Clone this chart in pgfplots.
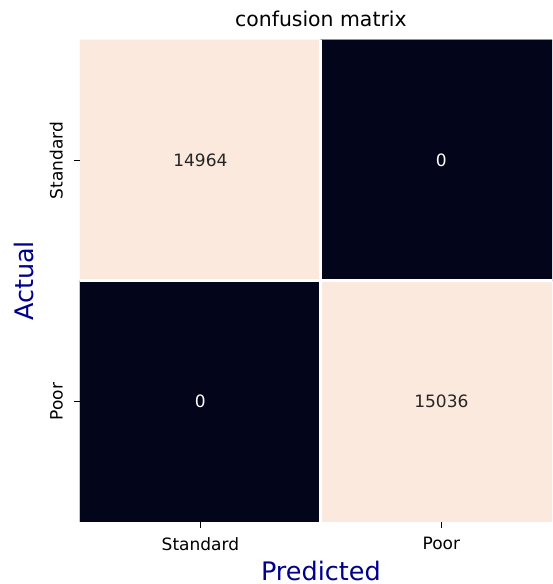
\documentclass[border=0pt]{standalone}
\usepackage{pgfplots}
\pgfplotsset{compat=1.18}
\usepackage{fontspec}
\setmainfont{DejaVu Sans}
\definecolor{rlight}{RGB}{250,233,220}
\definecolor{rdark}{RGB}{3,5,26}
\definecolor{lblue}{RGB}{0,0,139}
\definecolor{annot}{RGB}{38,38,38}
\begin{document}
\begin{tikzpicture}
\useasboundingbox (0,0) rectangle (324.7pt,343.5pt);
\clip (0,0) rectangle (324.7pt,343.5pt);
\begin{axis}[
  at={(47pt,36.5pt)}, anchor=south west,
  scale only axis, width=283.5pt, height=283.5pt,
  xmin=-0.5, xmax=1.5, ymin=-0.5, ymax=1.5,
  y dir=reverse,
  axis on top,
  axis line style={draw=none},
  xtick={0,1}, xticklabels={Standard,Poor},
  ytick={0,1}, yticklabels={Standard,Poor},
  xtick pos=bottom, ytick pos=left,
  tick align=outside, major tick length=3.5pt,
  tick style={black, line width=0.8pt},
  extra x ticks={0.5}, extra y ticks={0.5},
  extra x tick labels={}, extra y tick labels={},
  extra tick style={grid=major, major tick length=0pt, major grid style={white, line width=1.8pt}},
  ticklabel style={font=\fontsize{10}{12}\selectfont, text=black},
  xticklabel style={yshift=-2pt},
  yticklabel style={xshift=-3pt, rotate=90, anchor=south},
  title={confusion matrix},
  title style={font=\fontsize{12}{14}\selectfont, at={(0.5,1)}, anchor=south, yshift=-1.5pt},
  xlabel={Predicted}, ylabel={Actual},
  label style={font=\fontsize{15}{18}\selectfont, text=lblue},
  xlabel style={yshift=4.2pt},
  ylabel style={yshift=-1pt},
  colormap={rk}{color=(rdark) color=(rlight)},
  point meta min=0, point meta max=15036,
]
\addplot[matrix plot*, mesh/cols=2, point meta=explicit]
coordinates {(0,0) [14964] (1,0) [0] (0,1) [0] (1,1) [15036]};
\addplot[only marks, mark=none, nodes near coords, point meta=explicit symbolic,
  nodes near coords style={anchor=center, text=annot, font=\fontsize{10}{12}\selectfont}]
coordinates {(0,0) [14964] (1,1) [15036]};
\addplot[only marks, mark=none, nodes near coords, point meta=explicit symbolic,
  nodes near coords style={anchor=center, text=white, font=\fontsize{10}{12}\selectfont}]
coordinates {(1,0) [0] (0,1) [0]};
\end{axis}
\end{tikzpicture}
\end{document}
